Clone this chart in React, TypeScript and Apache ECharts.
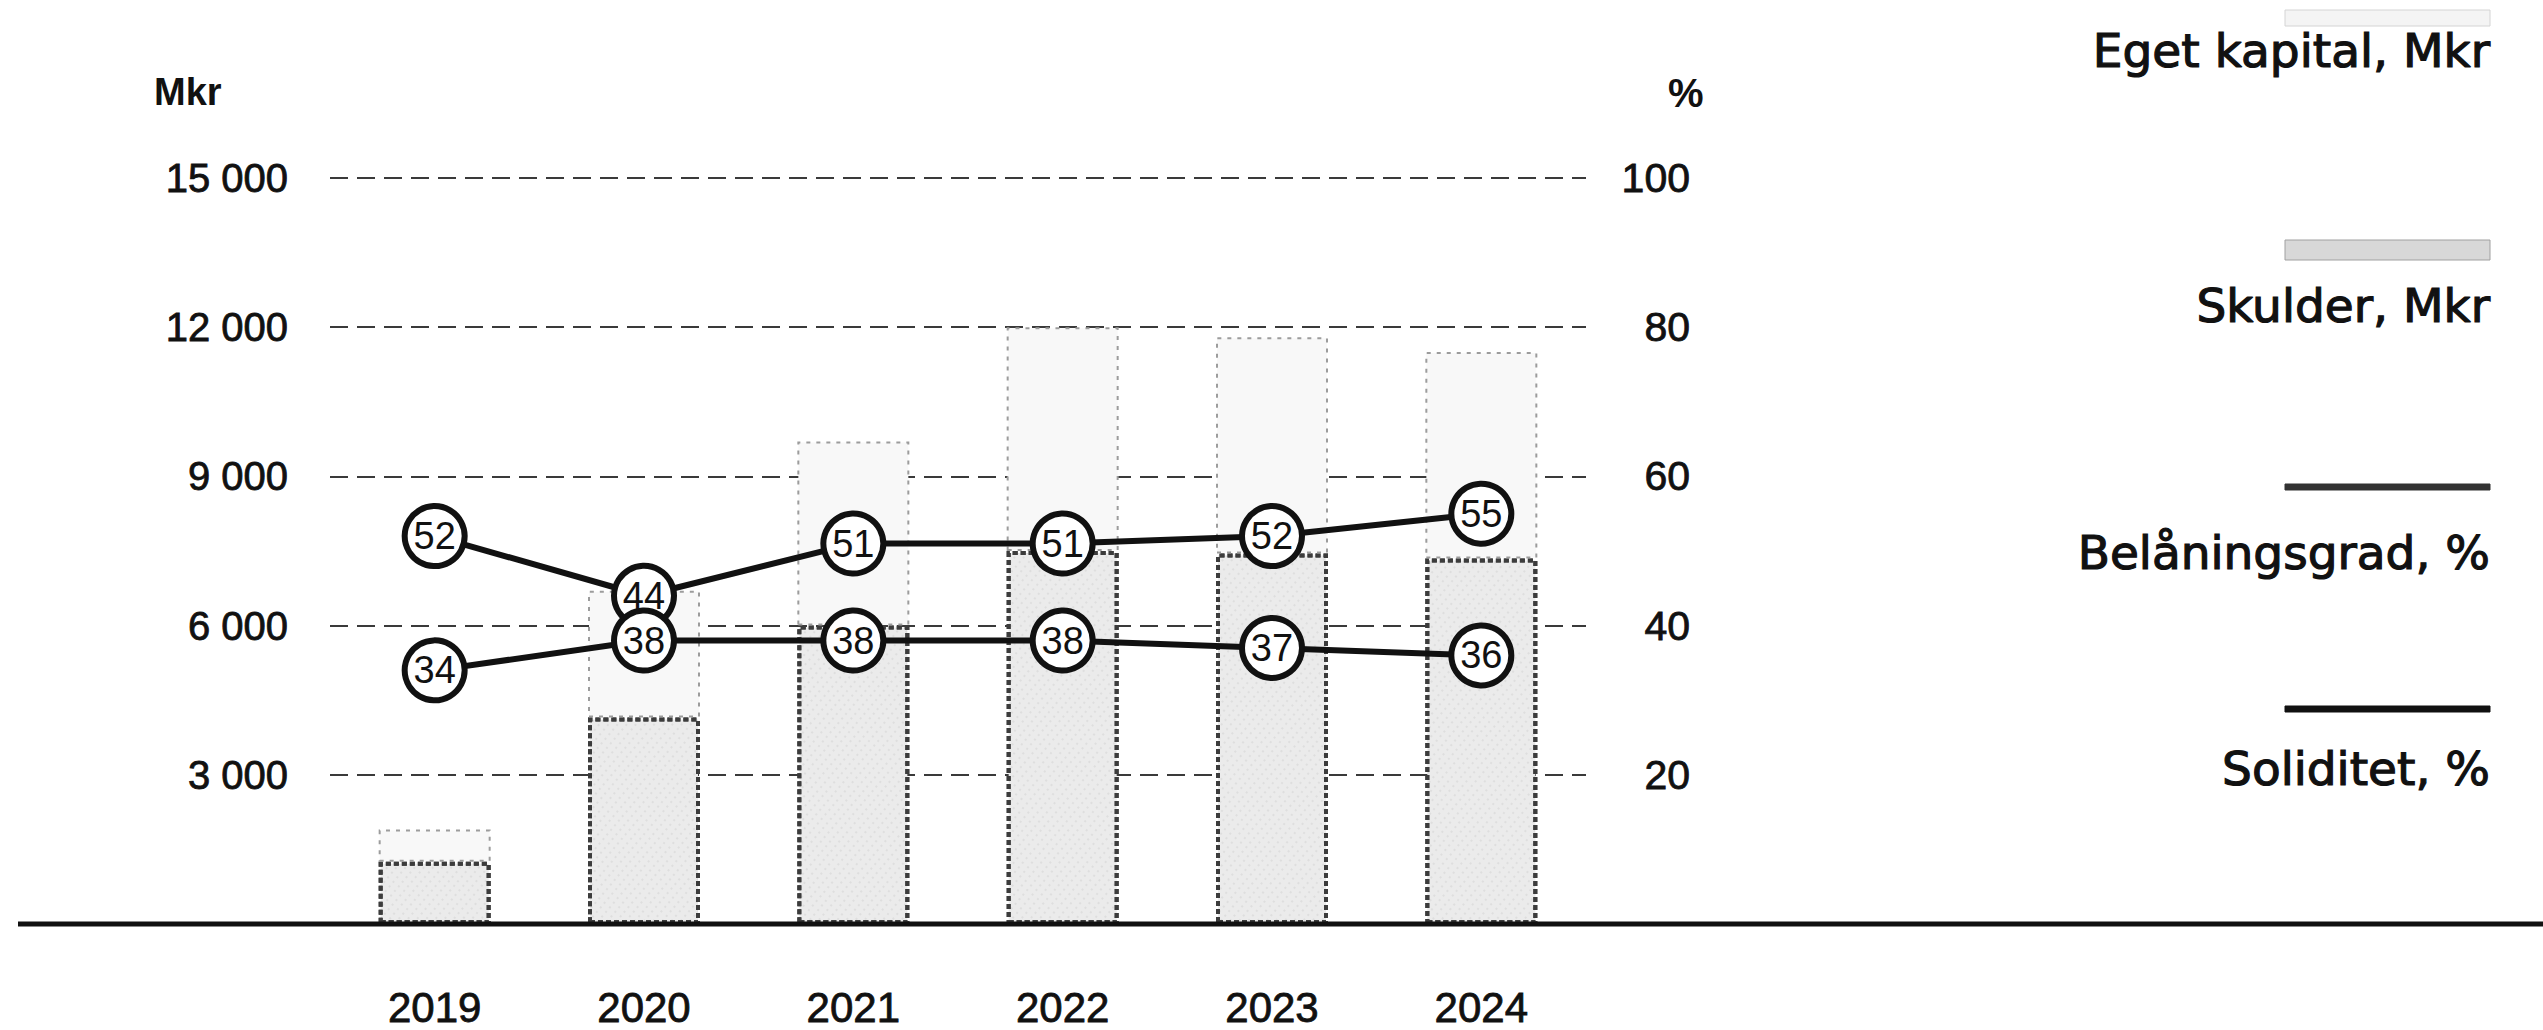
import React, { useEffect, useRef } from "react";
import * as echarts from "echarts";

// Balance sheet, 2019–2024
const years = ["2019", "2020", "2021", "2022", "2023", "2024"];
const skulder = [1250, 4150, 6000, 7500, 7450, 7350]; // Mkr
const egetKapital = [650, 2550, 3700, 4500, 4350, 4150]; // Mkr
const belaningsgrad = [52, 44, 51, 51, 52, 55]; // %
const soliditet = [34, 38, 38, 38, 37, 36]; // %

const mkrTicks = [0, 3000, 6000, 9000, 12000, 15000];
const pctTicks = [0, 20, 40, 60, 80, 100];

const legendLabels = ["Eget kapital, Mkr", "Skulder, Mkr", "Belåningsgrad, %", "Soliditet, %"];

const FONT = "'Liberation Sans', Arial, sans-serif";
const WIDE_FONT = "'DejaVu Sans', 'Liberation Sans', sans-serif";
const INK = "#111";

const spaced = (v: number) => String(v).replace(/\B(?=(\d{3})+(?!\d))/g, " ");

export default function App() {
  const ref = useRef<HTMLDivElement>(null);

  useEffect(() => {
    if (!ref.current) return;
    const chart = echarts.init(ref.current, null, { renderer: "svg" });

    const circleLine = (name: string, data: number[]) => ({
      name,
      type: "line",
      yAxisIndex: 1,
      data,
      z: 5,
      symbol: "circle",
      symbolSize: 60,
      lineStyle: { color: INK, width: 6 },
      itemStyle: { color: "#fff", borderColor: INK, borderWidth: 6 },
      label: {
        show: true,
        position: "inside",
        formatter: "{c}",
        fontFamily: FONT,
        fontSize: 38,
        color: INK,
      },
    });

    const legendX = 2490;
    const legendItems = [
      { swatchY: 10, swatchH: 16, fill: "#f4f4f4", stroke: "#d4d4d4", textY: 50 },
      { swatchY: 240, swatchH: 20, fill: "#d8d8d8", stroke: "#a0a0a0", textY: 305 },
      { swatchY: 484, swatchH: 6, fill: "#333", stroke: "#333", textY: 552 },
      { swatchY: 706, swatchH: 6, fill: INK, stroke: INK, textY: 768 },
    ];

    const graphic: any[] = [
      {
        type: "text",
        left: 154,
        top: 73,
        style: { text: "Mkr", font: `bold 38px ${FONT}`, fill: INK },
      },
      {
        type: "text",
        left: 1668,
        top: 73,
        style: { text: "%", font: `bold 40px ${FONT}`, fill: INK },
      },
      {
        type: "line",
        shape: { x1: 18, y1: 924, x2: 2543, y2: 924 },
        style: { stroke: INK, lineWidth: 5 },
        z: 10,
      },
    ];
    legendItems.forEach((it, i) => {
      graphic.push({
        type: "rect",
        shape: { x: legendX - 205, y: it.swatchY, width: 205, height: it.swatchH },
        style: { fill: it.fill, stroke: it.stroke, lineWidth: 1 },
      });
      graphic.push({
        type: "text",
        x: legendX,
        y: it.textY,
        style: {
          text: legendLabels[i],
          font: `47px ${WIDE_FONT}`,
          fill: INK,
          stroke: INK,
          lineWidth: 1.2,
          align: "right",
          verticalAlign: "middle",
        },
      });
    });

    chart.setOption({
      animation: false,
      backgroundColor: "#fff",
      grid: { left: 330, right: 957, top: 178, bottom: 106, containLabel: false },
      xAxis: {
        type: "category",
        data: years,
        axisLine: { show: false },
        axisTick: { show: false },
        axisLabel: {
          fontFamily: FONT,
          fontSize: 42,
          color: INK,
          textBorderColor: INK,
          textBorderWidth: 0.8,
          margin: 62,
        },
      },
      yAxis: [
        {
          type: "value",
          min: mkrTicks[0],
          max: mkrTicks[mkrTicks.length - 1],
          interval: mkrTicks[1] - mkrTicks[0],
          axisLine: { show: false },
          axisTick: { show: false },
          axisLabel: {
            fontFamily: FONT,
            fontSize: 40,
            color: INK,
            textBorderColor: INK,
            textBorderWidth: 0.8,
            margin: 42,
            formatter: (v: number) => (v === 0 ? "" : spaced(v)),
          },
          splitLine: {
            show: true,
            lineStyle: { color: "#3a3a3a", width: 2, type: [18, 9] },
          },
        },
        {
          type: "value",
          min: pctTicks[0],
          max: pctTicks[pctTicks.length - 1],
          interval: pctTicks[1] - pctTicks[0],
          axisLine: { show: false },
          axisTick: { show: false },
          splitLine: { show: false },
          axisLabel: {
            fontFamily: FONT,
            fontSize: 41,
            color: INK,
            textBorderColor: INK,
            textBorderWidth: 0.8,
            align: "right",
            margin: 104,
            formatter: (v: number) => (v === 0 ? "" : String(v)),
          },
        },
      ],
      series: [
        {
          name: "Skulder, Mkr",
          type: "bar",
          stack: "balans",
          data: skulder,
          barWidth: 112,
          itemStyle: {
            color: "#ebebeb",
            borderColor: "#3c3c3c",
            borderWidth: 4,
            borderType: [5, 3],
            decal: {
              symbol: "rect",
              symbolSize: 0.5,
              color: "rgba(0,0,0,0.22)",
              dashArrayX: [2, 5],
              dashArrayY: [2, 4],
              rotation: 0.7,
            },
          },
        },
        {
          name: "Eget kapital, Mkr",
          type: "bar",
          stack: "balans",
          data: egetKapital,
          barWidth: 112,
          itemStyle: {
            color: "#f8f8f8",
            borderColor: "#9c9c9c",
            borderWidth: 2,
            borderType: [4, 6],
          },
        },
        circleLine("Belåningsgrad, %", belaningsgrad),
        circleLine("Soliditet, %", soliditet),
      ],
      graphic,
    });

    return () => chart.dispose();
  }, []);

  return (
    <div
      ref={ref}
      style={{ position: "absolute", left: 0, top: 0, width: 2543, height: 1030, background: "#fff" }}
    />
  );
}
